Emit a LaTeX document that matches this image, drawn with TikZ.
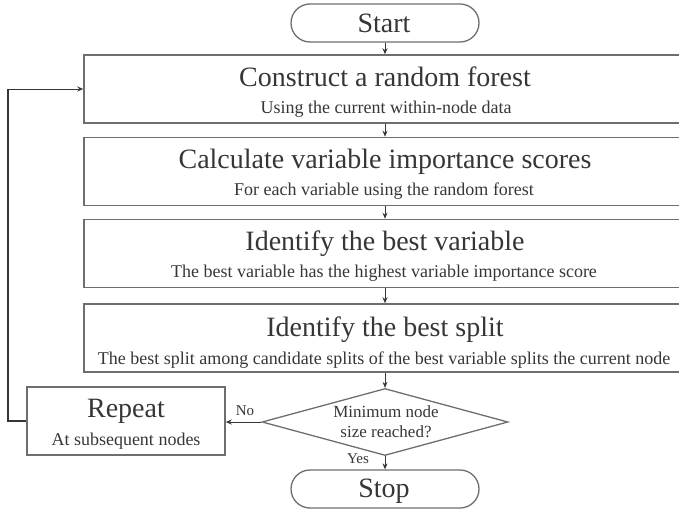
\documentclass[tikz,border=0pt]{standalone}
\usepackage{fontspec}
\setmainfont{Liberation Serif}
\usetikzlibrary{shapes.geometric,shapes.misc,arrows.meta}
\definecolor{edgegray}{HTML}{6E6E6E}
\definecolor{ink}{HTML}{363636}
\begin{document}
\begin{tikzpicture}[x=1pt,y=-1pt,
  procbox/.style={draw=edgegray, line width=1.5pt, minimum width=604pt, minimum height=68pt, inner sep=0pt},
  repbox/.style={draw=edgegray, line width=1.5pt, minimum width=198pt, minimum height=68pt, inner sep=0pt},
  term/.style={rounded rectangle, draw=edgegray, line width=1.3pt, minimum width=188pt, minimum height=38pt, inner sep=0pt},
  decide/.style={diamond, draw=edgegray, line width=1.3pt, minimum width=246pt, minimum height=67pt, aspect=3.67, inner sep=0pt},
  ttl/.style={anchor=base, text=ink, font=\fontsize{28}{30}\selectfont, inner sep=0pt},
  sub/.style={anchor=base, text=ink, font=\fontsize{18}{20}\selectfont, inner sep=0pt},
  dtxt/.style={anchor=base, text=ink, font=\fontsize{17}{19}\selectfont, inner sep=0pt},
  lbl/.style={anchor=base, text=ink, font=\fontsize{15}{17}\selectfont, inner sep=0pt},
  arr/.style={draw=ink, line width=0.9pt, -{Stealth[length=6pt,width=5pt]}},
  conn/.style={draw=ink, line width=1.1pt}
]
\useasboundingbox (0,0) rectangle (679,510);

% terminals
\node[term] (start) at (385,23) {};
\node[ttl] (starttxt) at (384,33) {Start};
\node[term] (stop) at (385,489) {};
\node[ttl] (stoptxt) at (384,497) {Stop};

% process boxes
\node[procbox] (b1) at (386,89) {};
\node[ttl] (t1) at (385,87) {Construct a random forest};
\node[sub] (s1) at (386,114) {Using the current within-node data};

\node[procbox] (b2) at (386,171.5) {};
\node[ttl] (t2) at (385,169) {Calculate variable importance scores};
\node[sub] (s2) at (384,196) {For each variable using the random forest};

\node[procbox] (b3) at (386,253.5) {};
\node[ttl] (t3) at (385,251) {Identify the best variable};
\node[sub] (s3) at (384,278) {The best variable has the highest variable importance score};

\node[procbox] (b4) at (386,338) {};
\node[ttl] (t4) at (385,336) {Identify the best split};
\node[sub] (s4) at (384,364) {The best split among candidate splits of the best variable splits the current node};

% decision
\node[decide] (dec) at (385,422) {};
\node[dtxt] (d1) at (386,417) {Minimum node};
\node[dtxt] (d2) at (386,437) {size reached?};

% repeat
\node[repbox] (rep) at (126,421) {};
\node[ttl] (rt) at (126,417) {Repeat};
\node[sub] (rs) at (126,445) {At subsequent nodes};

% labels
\node[lbl] (no) at (245,415) {No};
\node[lbl] (yes) at (358,463) {Yes};

% connectors
\coordinate (loopb) at (8,421);
\coordinate (loopt) at (8,89);
\draw[arr] (start.south) -- (start.south |- b1.north);
\draw[arr] (start.south |- b1.south) -- (start.south |- b2.north);
\draw[arr] (start.south |- b2.south) -- (start.south |- b3.north);
\draw[arr] (start.south |- b3.south) -- (start.south |- b4.north);
\draw[arr] (start.south |- b4.south) -- (dec.north);
\draw[arr] (dec.south) -- (stop.north);
\draw[arr] (dec.west) -- (dec.west -| rep.east);
\draw[conn] (rep.west) -- (loopb) -- (loopt);
\draw[arr] (loopt) -- (b1.west);
\end{tikzpicture}
\end{document}
